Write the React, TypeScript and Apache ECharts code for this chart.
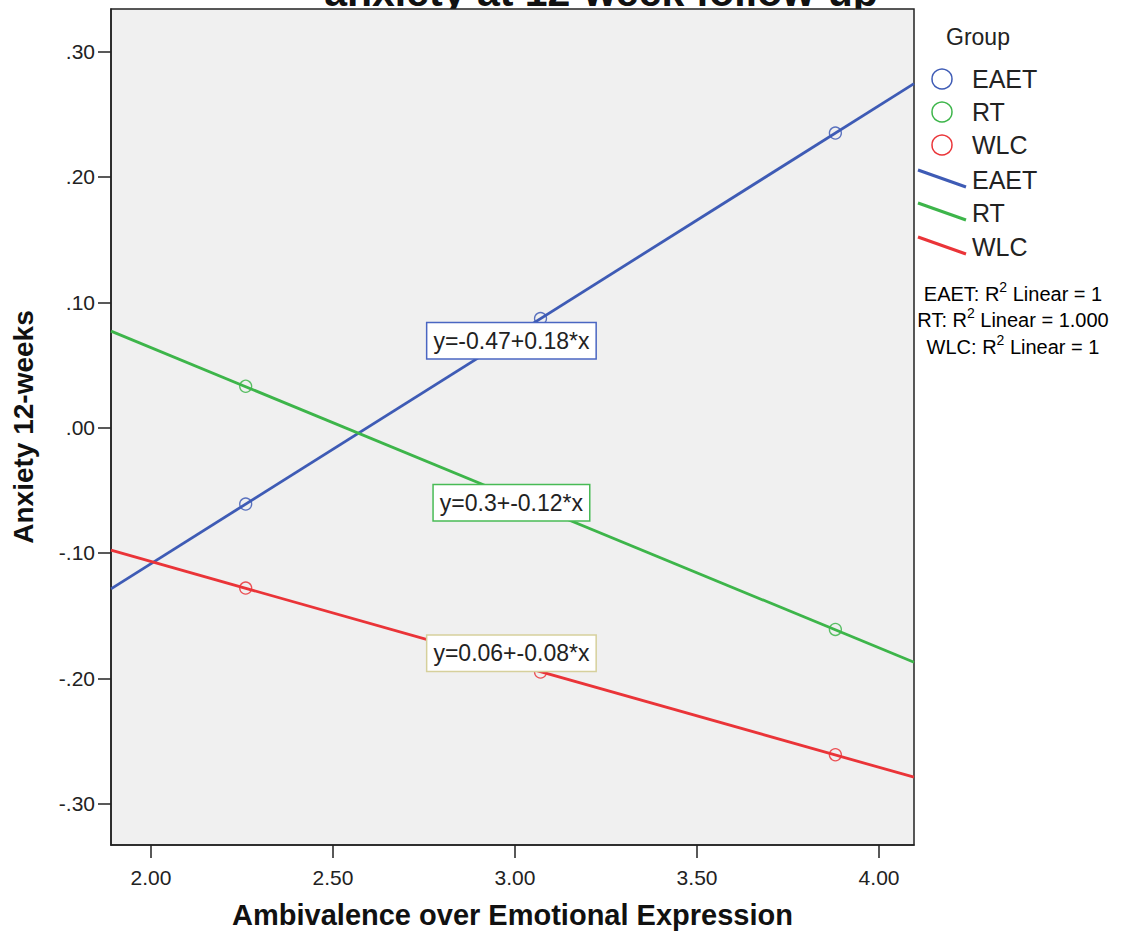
import React, { useEffect, useRef } from "react";
import * as echarts from "echarts";

// ---- data ----
const TITLE = "anxiety at 12-week follow-up";
const X_NAME = "Ambivalence over Emotional Expression";
const Y_NAME = "Anxiety 12-weeks";
const GROUPS = ["EAET", "RT", "WLC"];
const COLORS = ["#3E5BB5", "#3DB54A", "#EA3438"];
const LABEL_BORDERS = ["#4A66C2", "#48BB55", "#D6D09C"];
const X_VALUES = [2.26, 3.07, 3.88];
const EAET_Y = [-0.061, 0.087, 0.235];
const RT_Y = [0.033, -0.065, -0.161];
const WLC_Y = [-0.128, -0.195, -0.261];
const SERIES_Y = [EAET_Y, RT_Y, WLC_Y];
const EQUATIONS = ["y=-0.47+0.18*x", "y=0.3+-0.12*x", "y=0.06+-0.08*x"];
const EQ_POS_X = [2.99, 2.99, 2.99];
const EQ_POS_Y = [0.0694, -0.06, -0.18];
const R2_LABELS = ["EAET", "RT", "WLC"];
const R2_VALUES = ["1", "1.000", "1"];
const X_MIN = 1.89;
const X_MAX = 4.096;
const Y_MIN = -0.333;
const Y_MAX = 0.334;

function fit(xs: number[], ys: number[]) {
  const n = xs.length;
  const mx = xs.reduce((a, b) => a + b, 0) / n;
  const my = ys.reduce((a, b) => a + b, 0) / n;
  let sxy = 0;
  let sxx = 0;
  for (let i = 0; i < n; i++) {
    sxy += (xs[i] - mx) * (ys[i] - my);
    sxx += (xs[i] - mx) * (xs[i] - mx);
  }
  const b = sxy / sxx;
  return { a: my - b * mx, b };
}

const FONT = "Arial, 'Liberation Sans', sans-serif";

export default function App() {
  const ref = useRef<HTMLDivElement>(null);
  useEffect(() => {
    document.body.style.margin = "0";
    const chart = echarts.init(ref.current!, null, { renderer: "svg" });

    const series: any[] = [];
    GROUPS.forEach((g, i) => {
      const ys = SERIES_Y[i];
      series.push({
        name: g + " points",
        type: "scatter",
        data: X_VALUES.map((x, k) => [x, ys[k]]),
        symbol: "circle",
        symbolSize: 12,
        itemStyle: { color: "transparent", borderColor: COLORS[i], borderWidth: 1.3, opacity: 0.85 },
        z: 3,
      });
      const f = fit(X_VALUES, ys);
      series.push({
        name: g + " fit",
        type: "line",
        data: [
          [X_MIN, f.a + f.b * X_MIN],
          [X_MAX, f.a + f.b * X_MAX],
        ],
        showSymbol: false,
        lineStyle: { color: COLORS[i], width: 2.8 },
        z: 4,
        markPoint: {
          symbol: "rect",
          symbolSize: 1,
          itemStyle: { color: "transparent" },
          z: 10,
          label: {
            show: true,
            position: "inside",
            formatter: EQUATIONS[i],
            backgroundColor: "#ffffff",
            borderColor: LABEL_BORDERS[i],
            borderWidth: 1.5,
            padding: [7, 6, 5, 6],
            fontFamily: FONT,
            fontSize: 23,
            color: "#222",
          },
          data: [{ coord: [EQ_POS_X[i], EQ_POS_Y[i]] }],
        },
      });
    });

    const graphics: any[] = [];
    graphics.push({
      type: "text",
      x: 601,
      y: 12,
      z: -10,
      style: {
        text: TITLE,
        font: "bold 41px " + FONT,
        fill: "#111",
        align: "center",
        verticalAlign: "bottom",
      },
    });
    graphics.push({
      type: "text",
      x: 946,
      y: 37,
      style: { text: "Group", font: "23px " + FONT, fill: "#222", align: "left", verticalAlign: "middle" },
    });
    const circY = [79, 112, 145];
    const lineY = [180, 213, 247];
    GROUPS.forEach((g, i) => {
      graphics.push({
        type: "circle",
        shape: { cx: 942, cy: circY[i], r: 10 },
        style: { fill: "none", stroke: COLORS[i], lineWidth: 1.5 },
      });
      graphics.push({
        type: "text",
        x: 972,
        y: circY[i],
        style: { text: g, font: "25px " + FONT, fill: "#222", align: "left", verticalAlign: "middle" },
      });
      graphics.push({
        type: "line",
        shape: { x1: 918, y1: lineY[i] - 10, x2: 966, y2: lineY[i] + 7 },
        style: { stroke: COLORS[i], lineWidth: 3 },
      });
      graphics.push({
        type: "text",
        x: 972,
        y: lineY[i],
        style: { text: g, font: "25px " + FONT, fill: "#222", align: "left", verticalAlign: "middle" },
      });
    });
    const r2Y = [292, 318, 345];
    R2_LABELS.forEach((g, i) => {
      graphics.push({
        type: "text",
        x: 1013,
        y: r2Y[i],
        style: {
          text: `{a|${g}: R}{s|2}{a| Linear = ${R2_VALUES[i]}}`,
          align: "center",
          verticalAlign: "middle",
          rich: {
            a: { fontFamily: FONT, fontSize: 20, color: "#222", lineHeight: 24, verticalAlign: "bottom" },
            s: { fontFamily: FONT, fontSize: 14, color: "#222", lineHeight: 24, verticalAlign: "top" },
          },
        },
      });
    });

    chart.setOption({
      animation: false,
      backgroundColor: "#ffffff",
      grid: {
        left: 111,
        right: 212,
        top: 9,
        bottom: 94,
        show: true,
        backgroundColor: "#F0F0F0",
        borderColor: "#222",
        borderWidth: 1.5,
        z: 0,
      },
      xAxis: {
        type: "value",
        min: X_MIN,
        max: X_MAX,
        splitNumber: 4,
        minInterval: 0.5,
        maxInterval: 0.5,
        name: X_NAME,
        nameLocation: "middle",
        nameGap: 55,
        nameTextStyle: { fontFamily: FONT, fontWeight: "bold", fontSize: 29, color: "#111" },
        axisLine: { show: true, onZero: false, lineStyle: { color: "#222", width: 1.5 } },
        axisTick: { show: true, inside: false, length: 13, lineStyle: { color: "#222", width: 1.5 } },
        axisLabel: {
          margin: 22,
          fontFamily: FONT,
          fontSize: 21,
          color: "#222",
          formatter: (v: number) => v.toFixed(2),
          showMinLabel: false,
          showMaxLabel: false,
        },
        splitLine: { show: false },
      },
      yAxis: {
        type: "value",
        min: Y_MIN,
        max: Y_MAX,
        splitNumber: 6,
        minInterval: 0.1,
        maxInterval: 0.1,
        name: Y_NAME,
        nameLocation: "middle",
        nameGap: 74,
        nameTextStyle: { fontFamily: FONT, fontWeight: "bold", fontSize: 28, color: "#111" },
        axisLine: { show: true, onZero: false, lineStyle: { color: "#222", width: 1.5 } },
        axisTick: { show: true, inside: false, length: 13, lineStyle: { color: "#222", width: 1.5 } },
        axisLabel: {
          margin: 16,
          fontFamily: FONT,
          fontSize: 21,
          color: "#222",
          formatter: (v: number) => {
            const s = Math.abs(v).toFixed(2).replace(/^0/, "");
            return (v < -1e-9 ? "-" : "") + s;
          },
          showMinLabel: false,
          showMaxLabel: false,
        },
        splitLine: { show: false },
      },
      series,
      graphic: graphics,
    });
    return () => chart.dispose();
  }, []);
  return <div ref={ref} style={{ width: 1126, height: 939 }} />;
}
